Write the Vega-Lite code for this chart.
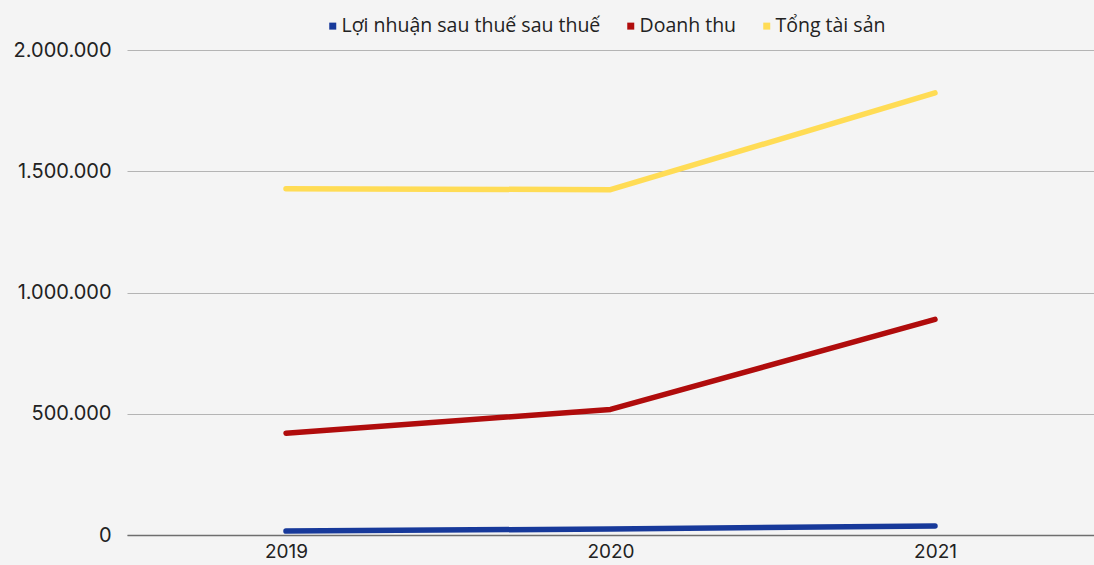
{
  "$schema": "https://vega.github.io/schema/vega-lite/v6.json",
  "width": 1094,
  "height": 565,
  "autosize": {"type": "fit", "contains": "padding"},
  "padding": {"left": 0, "top": 40, "right": 0, "bottom": 0},
  "background": "#f4f4f4",
  "config": {"view": {"stroke": null}},
  "data": {
    "values": [
      {"year": "2019", "series": "Lợi nhuận sau thuế sau thuế", "value": 16000},
      {"year": "2020", "series": "Lợi nhuận sau thuế sau thuế", "value": 25000},
      {"year": "2021", "series": "Lợi nhuận sau thuế sau thuế", "value": 37000},
      {"year": "2019", "series": "Doanh thu", "value": 420000},
      {"year": "2020", "series": "Doanh thu", "value": 518000},
      {"year": "2021", "series": "Doanh thu", "value": 889000},
      {"year": "2019", "series": "Tổng tài sản", "value": 1428000},
      {"year": "2020", "series": "Tổng tài sản", "value": 1424000},
      {"year": "2021", "series": "Tổng tài sản", "value": 1823000}
    ]
  },
  "mark": {"type": "line", "strokeWidth": 5.5, "strokeCap": "round", "strokeJoin": "round"},
  "encoding": {
    "x": {
      "field": "year",
      "type": "ordinal",
      "scale": {"type": "point", "padding": 0.49},
      "axis": {
        "title": null,
        "labelAngle": 0,
        "labelFont": "Inter",
        "labelFontSize": 19,
        "labelColor": "#222222",
        "labelPadding": 7,
        "ticks": false,
        "domain": true,
        "domainColor": "#6e6e6e",
        "domainWidth": 1.5,
        "minExtent": 30,
        "maxExtent": 30
      }
    },
    "y": {
      "field": "value",
      "type": "quantitative",
      "scale": {"domain": [0, 2000000]},
      "axis": {
        "title": null,
        "values": [0, 500000, 1000000, 1500000, 2000000],
        "labelExpr": "replace(format(datum.value, ',d'), /,/g, '.')",
        "labelFont": "Inter",
        "labelFontSize": 20,
        "labelColor": "#222222",
        "labelPadding": 16,
        "ticks": false,
        "domain": false,
        "gridColor": "#b4b4b4",
        "gridWidth": 1,
        "minExtent": 127,
        "maxExtent": 127
      }
    },
    "color": {
      "field": "series",
      "type": "nominal",
      "scale": {
        "domain": ["Lợi nhuận sau thuế sau thuế", "Doanh thu", "Tổng tài sản"],
        "range": ["#17399a", "#b00c0c", "#ffdc55"]
      },
      "legend": {
        "title": null,
        "orient": "none",
        "direction": "horizontal",
        "legendX": 196,
        "legendY": -34,
        "symbolType": "square",
        "symbolSize": 49,
        "symbolStrokeWidth": 0,
        "labelFont": "Open Sans",
        "labelFontSize": 19.5,
        "labelColor": "#222222",
        "labelLimit": 400,
        "columnPadding": 20,
        "labelOffset": -1,
        "encode": {
          "symbols": {
            "update": {
              "fill": {"scale": "color", "field": "value"},
              "fillOpacity": {"value": 1},
              "strokeWidth": {"value": 0}
            }
          }
        }
      }
    }
  }
}
